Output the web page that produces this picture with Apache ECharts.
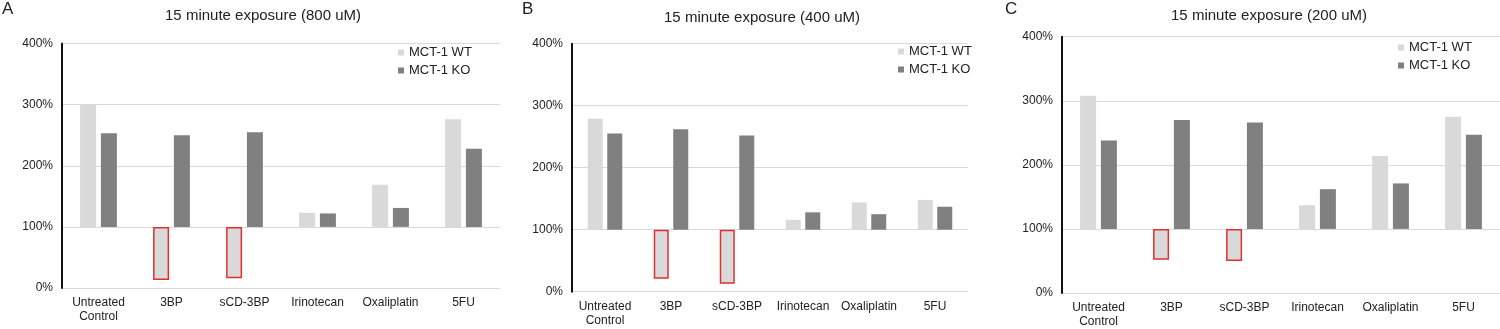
<!DOCTYPE html>
<html>
<head>
<meta charset="utf-8">
<script src="https://cdn.jsdelivr.net/npm/echarts@6/dist/echarts.min.js"></script>
<style>
    html, body { margin: 0; padding: 0; background: #fff; }
    #chart_main { width: 1500px; height: 329px; }
</style>
</head>
<body>
<div id="chart_main"></div>
<script>
var categories = ['Untreated\nControl', '3BP', 'sCD-3BP', 'Irinotecan', 'Oxaliplatin', '5FU'];
var yTicks = [0, 100, 200, 300, 400];
var baseLevel = 100;

// 800 uM
var wtA = [300, 13, 16, 123, 169, 276];
var koA = [253, 250, 255, 122, 131, 228];
// 400 uM
var wtB = [279, 21, 13, 116, 144, 148];
var koB = [255, 262, 252, 128, 125, 137];
// 200 uM
var wtC = [308, 52, 50, 137, 214, 275];
var koC = [238, 270, 266, 162, 171, 247];

var titles = ['15 minute exposure (800 uM)', '15 minute exposure (400 uM)', '15 minute exposure (200 uM)'];
var letters = ['A', 'B', 'C'];

var fontFam = '"Liberation Sans", Arial, sans-serif';
var wtColor = '#d9d9d9';
var koColor = '#808080';

var panels = [
    { grid: { left: 62, top: 43.5, width: 438, height: 244.5 }, barW: 16, title: [263, 8], letter: [2, 1], legend: [393, 41] },
    { grid: { left: 572, top: 43.7, width: 396, height: 248 }, barW: 15, title: [762, 10], letter: [522, 1], legend: [893, 40] },
    { grid: { left: 1062, top: 36.7, width: 438, height: 260.6 }, barW: 16, title: [1269, 8], letter: [1005, 1], legend: [1393, 36] }
];

// bars hang from the 100% line, drops below it get a red outline
function toBars(arr) {
    var out = [];
    for (var i = 0; i < arr.length; i++) {
        var item = { value: arr[i] - baseLevel };
        if (arr[i] < baseLevel) {
            item.itemStyle = { borderColor: '#e03030', borderWidth: 1.5 };
        }
        out.push(item);
    }
    return out;
}

var chart_main = echarts.init(document.getElementById('chart_main'));

var grids = [], xAxes = [], yAxes = [], legends = [], graphics = [], seriesList = [];
var wtSets = [wtA, wtB, wtC];
var koSets = [koA, koB, koC];

for (var p = 0; p < panels.length; p++) {
    var pn = panels[p];
    grids.push(pn.grid);
    xAxes.push({
        type: 'category',
        gridIndex: p,
        data: categories,
        axisLine: { show: false },
        axisTick: { show: false },
        axisLabel: {
            interval: 0,
            margin: 8,
            fontFamily: fontFam,
            fontSize: 12,
            lineHeight: 14,
            color: '#222'
        }
    });
    yAxes.push({
        type: 'value',
        gridIndex: p,
        min: yTicks[0] - baseLevel,
        max: yTicks[yTicks.length - 1] - baseLevel,
        interval: 100,
        axisLine: { show: true, lineStyle: { color: '#111', width: 2 } },
        axisTick: { show: false },
        splitLine: { lineStyle: { color: '#d9d9d9', width: 1 } },
        axisLabel: {
            margin: 9,
            fontFamily: fontFam,
            fontSize: 12,
            color: '#222',
            formatter: function (v) { return (v + baseLevel) + '%'; }
        }
    });
    legends.push({
        orient: 'vertical',
        left: pn.legend[0],
        top: pn.legend[1],
        itemWidth: 6,
        itemHeight: 6,
        itemGap: 5,
        icon: 'rect',
        data: ['MCT-1 WT', 'MCT-1 KO'],
        textStyle: { fontFamily: fontFam, fontSize: 13, color: '#222' }
    });
    graphics.push({
        type: 'text',
        x: pn.title[0],
        y: pn.title[1],
        style: { text: titles[p], align: 'center', font: '15px ' + fontFam, fill: '#222' }
    });
    graphics.push({
        type: 'text',
        x: pn.letter[0],
        y: pn.letter[1],
        style: { text: letters[p], font: '17px ' + fontFam, fill: '#222' }
    });
    seriesList.push({
        name: 'MCT-1 WT',
        type: 'bar',
        xAxisIndex: p,
        yAxisIndex: p,
        barWidth: pn.barW,
        barGap: '30%',
        itemStyle: { color: wtColor },
        data: toBars(wtSets[p])
    });
    seriesList.push({
        name: 'MCT-1 KO',
        type: 'bar',
        xAxisIndex: p,
        yAxisIndex: p,
        barWidth: pn.barW,
        barGap: '30%',
        itemStyle: { color: koColor },
        data: toBars(koSets[p])
    });
}

chart_main.setOption({
    animation: false,
    backgroundColor: '#fff',
    grid: grids,
    xAxis: xAxes,
    yAxis: yAxes,
    legend: legends,
    graphic: graphics,
    series: seriesList
});
</script>
</body>
</html>
